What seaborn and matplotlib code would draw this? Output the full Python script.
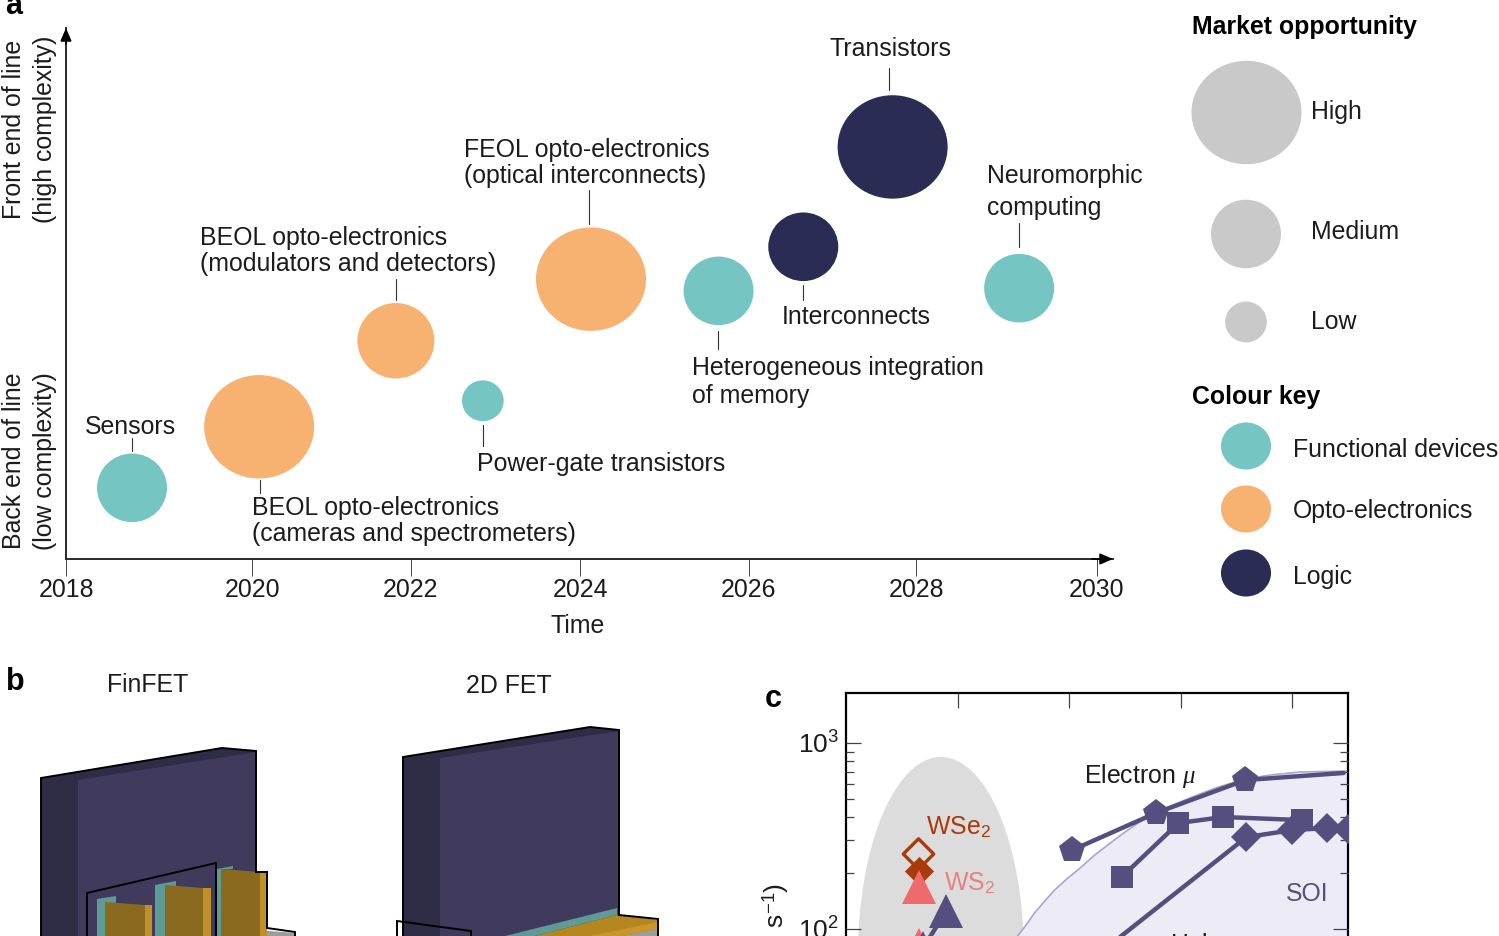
import numpy as np
import pandas as pd
import matplotlib
matplotlib.use("Agg")
import matplotlib.pyplot as plt
from matplotlib.markers import MarkerStyle
from matplotlib.patches import Ellipse, Polygon
from matplotlib.path import Path
from matplotlib.ticker import NullFormatter
from matplotlib.transforms import Affine2D
import seaborn as sns

W, H = 1499, 936

# panel a
tech_names = ["Sensors", "BEOL cameras", "BEOL modulators", "Power-gate", "FEOL opto",
              "Heterogeneous", "Interconnects", "Transistors", "Neuromorphic"]
tech_year = [2018.71, 2020.09, 2021.81, 2022.85, 2024.13, 2025.64, 2026.65, 2027.72, 2029.14]
tech_level = [13.4, 24.9, 41.1, 29.8, 52.7, 50.5, 58.8, 77.6, 51.0]
tech_market = ["Medium", "High", "Medium+", "Low", "High", "Medium", "Medium", "High", "Medium"]
tech_kind = ["Functional devices", "Opto-electronics", "Opto-electronics", "Functional devices",
             "Opto-electronics", "Functional devices", "Logic", "Logic", "Functional devices"]
year_ticks = [2018, 2020, 2022, 2024, 2026, 2028, 2030]

# panel c
soi_x = [1.54, 1.62, 1.69, 1.78, 1.87, 1.98, 2.10, 2.23, 2.37, 2.51, 2.66, 2.86, 3.08, 3.32, 3.58, 3.82, 4.07, 4.5]
soi_y = [92, 106, 122, 141, 162, 186, 213, 250, 290, 335, 385, 445, 506, 575, 640, 675, 698, 707]
electron_x = [2.03, 2.78, 3.58, 4.46]
electron_y = [266, 421, 632, 690]
square_x = [2.47, 2.98, 3.38, 4.09]
square_y = [190, 371, 400, 385]
diamond_x = [2.0, 3.59, 4.0, 4.31, 4.5]
diamond_y = [55, 312, 340, 349, 345]
slate_tri_x = [0.69, 0.90]
slate_tri_y = [79, 125]
ws2_x = [0.65, 0.65]
ws2_y = [82, 168]
wse2_x = [0.65]
wse2_fill = [205]
wse2_open = [253]

TEAL, ORANGE, NAVY = "#75C5C2", "#F7B271", "#2A2C54"
SLATE, BRICK, ROSE = "#544F7F", "#A93A0C", "#EE6A6C"
kind_colors = {"Functional devices": TEAL, "Opto-electronics": ORANGE, "Logic": NAVY}
market_sizes = {"High": 6273, "Medium+": 3073, "Medium": 2540, "Low": 900}

sns.set_theme(style="white")
plt.rcParams["font.family"] = ["Liberation Sans", "DejaVu Sans"]
plt.rcParams["mathtext.fontset"] = "custom"
plt.rcParams["mathtext.rm"] = "Liberation Sans"
plt.rcParams["mathtext.it"] = "Liberation Serif:italic"
FS = 17.9

wide_bubble = MarkerStyle(Path.unit_circle().transformed(Affine2D().scale(1, 0.94)))
round_bubble = MarkerStyle(Path.unit_circle().transformed(Affine2D().scale(1, 0.98)))

fig = plt.figure(figsize=(W / 100, H / 100), dpi=100)


def px_axes(left, top, right, bottom):
    return fig.add_axes([left / W, 1 - bottom / H, (right - left) / W, (bottom - top) / H])


# full page layer in pixel coordinates, for labels and the schematic
ov = fig.add_axes([0, 0, 1, 1], zorder=0)
ov.set_xlim(0, W)
ov.set_ylim(H, 0)
ov.axis("off")


def label(x, y, s, **kw):
    kw.setdefault("fontsize", FS)
    kw.setdefault("color", "#1c1c1c")
    kw.setdefault("va", "center")
    kw.setdefault("ha", "left")
    ov.text(x, y, s, **kw)


# ---- a ----
anchors_year = [2018, 2020, 2022, 2024, 2026, 2028, 2030, 2030.18]
anchors_px = [66, 252, 411, 580, 749, 916, 1097, 1113]
ax = px_axes(66, 28, 1113, 559)
ax.set_zorder(1)
ax.patch.set_alpha(0)
ax.set_xscale("function", functions=(lambda v: np.interp(v, anchors_year, anchors_px),
                                     lambda v: np.interp(v, anchors_px, anchors_year)))
techs = pd.DataFrame({"year": tech_year, "level": tech_level, "market": tech_market, "kind": tech_kind})
big = techs["market"] == "High"
sns.scatterplot(data=techs[big], x="year", y="level", hue="kind", palette=kind_colors, size="market",
                sizes=market_sizes, marker=wide_bubble, linewidth=0, legend=False, ax=ax, clip_on=False)
sns.scatterplot(data=techs[~big], x="year", y="level", hue="kind", palette=kind_colors, size="market",
                sizes=market_sizes, marker=round_bubble, linewidth=0, legend=False, ax=ax, clip_on=False)
ax.set_xlim(2018, 2030.18)
ax.set_ylim(0, 100)
ax.set_xticks(year_ticks)
ax.set_xticklabels([str(y) for y in year_ticks], fontsize=FS, color="#1c1c1c")
ax.set_yticks([])
ax.set_xlabel("")
ax.set_ylabel("")
ax.tick_params(axis="x", bottom=True, length=12, width=0.7, color="#444444", pad=2)
sns.despine(ax=ax)
for s in ["left", "bottom"]:
    ax.spines[s].set_linewidth(1.4)
    ax.spines[s].set_color("#2a2a2a")
ax.annotate("", xy=(1, 0), xytext=(0.98, 0), xycoords="axes fraction",
            arrowprops=dict(arrowstyle="-|>,head_width=0.28,head_length=0.65", color="black", lw=1.2,
                            shrinkA=0, shrinkB=0))
ax.annotate("", xy=(0, 1), xytext=(0, 0.97), xycoords="axes fraction",
            arrowprops=dict(arrowstyle="-|>,head_width=0.28,head_length=0.65", color="black", lw=1.2,
                            shrinkA=0, shrinkB=0))

leaders = [(132, 438, 451), (260, 480, 493), (396, 279, 300), (483, 425, 446), (589, 190, 224),
           (718, 331, 349), (803, 285, 300), (889, 68, 90), (1019, 223, 247)]
for lx, y0, y1 in leaders:
    ov.plot([lx, lx], [y0, y1], color="#333333", lw=0.8)

tech_labels = [(830, 48, "Transistors"), (464, 148, "FEOL opto-electronics"),
               (464, 174, "(optical interconnects)"), (200, 236, "BEOL opto-electronics"),
               (200, 262, "(modulators and detectors)"), (987, 174, "Neuromorphic"),
               (987, 207, "computing"), (782, 315, "Interconnects"),
               (692, 366, "Heterogeneous integration"), (692, 395, "of memory"),
               (477, 463, "Power-gate transistors"), (85, 426, "Sensors"),
               (252, 506, "BEOL opto-electronics"), (252, 533, "(cameras and spectrometers)")]
for x, y, s in tech_labels:
    label(x, y + 1.5, s)

label(14, 129, "Front end of line", rotation=90, ha="center")
label(45, 129, "(high complexity)", rotation=90, ha="center")
label(14, 461, "Back end of line", rotation=90, ha="center")
label(45, 461, "(low complexity)", rotation=90, ha="center")
label(578, 626, "Time", ha="center")

# legends
sns.scatterplot(x=[1246], y=[112], size=["High"], sizes=market_sizes, color="#C9C9C9",
                marker=wide_bubble, linewidth=0, legend=False, ax=ov)
sns.scatterplot(x=[1246, 1246], y=[234, 322], size=["Medium", "Low"], sizes=market_sizes, color="#C9C9C9",
                marker=round_bubble, linewidth=0, legend=False, ax=ov)
sns.scatterplot(x=[1246, 1246, 1246], y=[446, 509, 573], hue=list(kind_colors), palette=kind_colors,
                s=1300, marker=wide_bubble, linewidth=0, legend=False, ax=ov)
ov.set_xlim(0, W)
ov.set_ylim(H, 0)
label(1192, 27, "Market opportunity", fontweight="bold", color="black")
label(1192, 397, "Colour key", fontweight="bold", color="black")
label(1311, 112, "High")
label(1311, 232, "Medium")
label(1311, 322, "Low")
label(1293, 450, "Functional devices")
label(1293, 511, "Opto-electronics")
label(1293, 577, "Logic")

label(5, 6, "a", fontsize=22, fontweight="bold", color="black")
label(6, 682, "b", fontsize=22, fontweight="bold", color="black")
label(765, 699, "c", fontsize=22, fontweight="bold", color="black")

# ---- b ----
label(148, 685, "FinFET", ha="center")
label(509, 686, "2D FET", ha="center")

FRONT, SIDE, TEAL_D, AMBER, AMBER_L, GREY = "#403A5C", "#2F2C45", "#5E9A96", "#8A6A1E", "#C08F26", "#9C9C9C"
schematic = [
    # FinFET gate
    ([(41, 778), (222, 748), (256, 751), (256, 936), (41, 936)], SIDE),
    ([(78, 780), (256, 752), (256, 936), (78, 936)], FRONT),
    ([(256, 930), (295, 933), (295, 936), (256, 936)], GREY),
    # fins
    ([(97, 899), (116, 896), (116, 903), (105, 904), (105, 936), (97, 936)], TEAL_D),
    ([(105, 902), (145, 905), (145, 936), (105, 936)], AMBER),
    ([(145, 905), (152, 905), (152, 936), (145, 936)], AMBER_L),
    ([(155, 885), (176, 881), (176, 886), (165, 887), (165, 936), (155, 936)], TEAL_D),
    ([(165, 885), (203, 888), (203, 936), (165, 936)], AMBER),
    ([(203, 888), (211, 888), (211, 936), (203, 936)], AMBER_L),
    ([(217, 869), (233, 866), (233, 869), (222, 870), (222, 936), (217, 936)], TEAL_D),
    ([(221, 869), (260, 872), (260, 936), (221, 936)], AMBER),
    ([(260, 872), (267, 872), (267, 936), (260, 936)], AMBER_L),
    # 2D FET gate
    ([(403, 757), (590, 727), (619, 730), (619, 936), (403, 936)], SIDE),
    ([(440, 758), (619, 731), (619, 936), (440, 936)], FRONT),
    ([(617, 908), (617, 915), (535, 936), (505, 936)], TEAL_D),
    ([(617, 915), (658, 920), (658, 936), (535, 936)], "#B5871F"),
    ([(658, 922), (658, 929), (622, 936), (590, 936)], "#C9962C"),
    ([(658, 929), (658, 936), (622, 936)], GREY),
]
for pts, col in schematic:
    ov.add_patch(Polygon(pts, closed=True, facecolor=col, edgecolor="none", zorder=2))

outlines = [
    [(41, 936), (41, 778), (222, 748), (256, 751), (256, 872), (267, 872), (267, 928), (295, 932), (295, 936)],
    [(87, 936), (87, 893), (216, 863), (216, 936)],
    [(403, 936), (403, 757), (590, 727), (619, 730), (619, 915), (658, 919), (658, 936)],
    [(397, 936), (397, 921), (471, 931), (471, 936)],
]
for pts in outlines:
    xs, ys = zip(*pts)
    ov.plot(xs, ys, color="black", lw=1.4, zorder=3, solid_joinstyle="miter")

# ---- c ----
axc = px_axes(846, 693, 1348, 1100)
axc.set_zorder(2)
axc.patch.set_alpha(0)
axc.set_axisbelow(False)
axc.add_patch(Ellipse((941, 955), 166, 396, transform=ov.transData, facecolor="#DCDCDC", edgecolor="none", zorder=0.5))
axc.fill_between(soi_x, soi_y, 1, color="#EDECF6", linewidth=0, zorder=0.6)
axc.plot(soi_x, soi_y, color="#A9A6CC", lw=1.2, zorder=0.7)

common = dict(ax=axc, color=SLATE, linewidth=3.2, markeredgewidth=0, sort=False, estimator=None, errorbar=None, zorder=3)
sns.lineplot(x=electron_x, y=electron_y, marker="p", markersize=20, markevery=[0, 1, 2], **common)
sns.lineplot(x=square_x, y=square_y, marker="s", markersize=16.5, **common)
sns.lineplot(x=diamond_x, y=diamond_y, marker="D", markersize=15.5, **common)
sns.lineplot(x=slate_tri_x, y=slate_tri_y, marker="^", markersize=24, **common)
sns.lineplot(x=ws2_x, y=ws2_y, marker="^", markersize=24, color=ROSE, linewidth=0, markeredgewidth=0,
             ax=axc, sort=False, estimator=None, errorbar=None, zorder=2.5)
sns.scatterplot(x=wse2_x, y=wse2_fill, marker="D", s=220, color=BRICK, linewidth=0, ax=axc, zorder=2.4)
sns.scatterplot(x=wse2_x, y=wse2_open, marker="D", s=240, facecolor="none", edgecolor=BRICK, linewidth=2.4, ax=axc, zorder=2.4)

axc.set_yscale("log")
axc.set_xlim(0, 4.5)
axc.set_ylim(12.04, 1857)
axc.set_xticks([1, 2, 3, 4])
axc.set_xticklabels([])
axc.yaxis.set_minor_formatter(NullFormatter())
axc.tick_params(which="both", direction="in", left=True, right=True, top=True, bottom=True, color="#444444", width=0.9)
axc.tick_params(which="major", length=10.5, labelsize=19, pad=5, labelcolor="#1c1c1c")
axc.tick_params(which="minor", length=6)
axc.set_xlabel("")
axc.set_ylabel("")
for s in axc.spines.values():
    s.set_linewidth(1.6)
    s.set_color("black")

axc.text(926, 827, "WSe$_2$", transform=ov.transData, color=BRICK, fontsize=FS, va="center", zorder=5)
axc.text(944, 883, "WS$_2$", transform=ov.transData, color="#E98080", fontsize=FS, va="center", zorder=5)
axc.text(1084, 776, r"Electron $\mathit{\mu}$", transform=ov.transData, color="#1c1c1c", fontsize=FS, va="center", zorder=5)
axc.text(1286, 894, "SOI", transform=ov.transData, color=SLATE, fontsize=FS, va="center", zorder=5)
axc.text(1170, 945, r"Hole $\mathit{\mu}$", transform=ov.transData, color="#1c1c1c", fontsize=FS, va="center", zorder=5)
label(776, 883, "Mobility (cm$^2$ V$^{-1}$ s$^{-1}$)", rotation=90, ha="center", va="top", fontsize=19)

fig.savefig("out.png", dpi=100)
